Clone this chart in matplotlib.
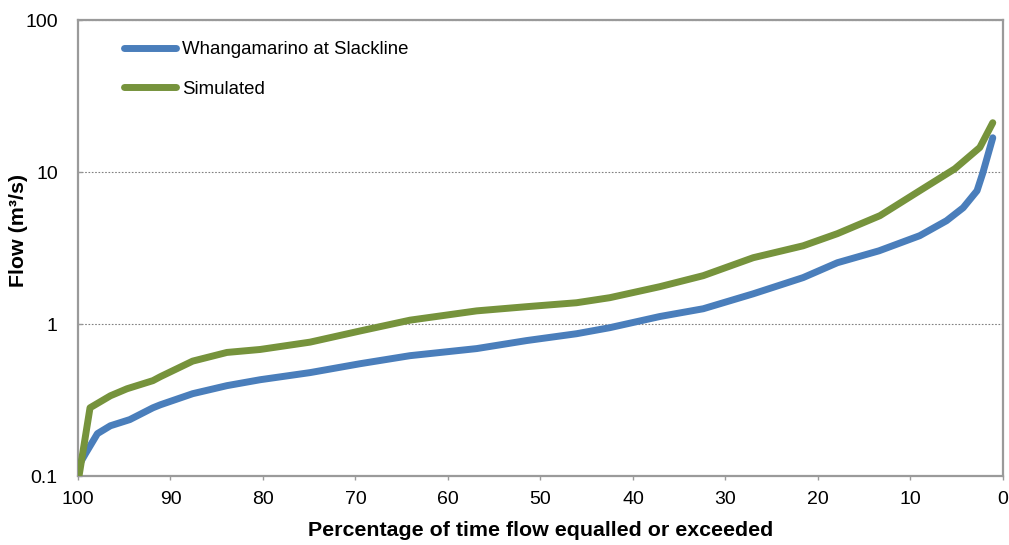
import numpy as np
import matplotlib.pyplot as plt
from matplotlib.ticker import FixedLocator, FixedFormatter, NullLocator

plt.rcParams['font.family'] = ['Liberation Sans', 'DejaVu Sans']

# flow duration curves: percentage of time exceeded vs flow (m3/s)
obs_pct = [100, 99.2, 97.9, 96.5, 94.4, 91.9, 91.1, 87.6, 83.9, 80.3, 74.9,
           69.5, 64.1, 56.9, 51.5, 46.1, 42.5, 37.1, 32.4, 27.0, 21.6, 17.9,
           13.4, 9.0, 6.1, 4.3, 2.8, 2.2, 1.1]
obs_flow = [0.115, 0.140, 0.190, 0.214, 0.235, 0.281, 0.294, 0.348, 0.393,
            0.430, 0.479, 0.548, 0.619, 0.689, 0.778, 0.863, 0.946, 1.12,
            1.26, 1.58, 2.02, 2.53, 3.03, 3.81, 4.78, 5.82, 7.53, 9.75, 16.8]

sim_pct = [99.9, 98.7, 96.5, 94.7, 91.9, 91.1, 87.6, 83.9, 80.3, 74.9, 69.5,
           64.1, 56.9, 51.5, 46.1, 42.5, 37.1, 32.4, 27.0, 21.6, 17.9, 13.3,
           9.0, 5.2, 2.5, 1.1]
sim_flow = [0.099, 0.281, 0.337, 0.375, 0.424, 0.45, 0.57, 0.65, 0.68, 0.76,
            0.90, 1.06, 1.22, 1.30, 1.38, 1.49, 1.76, 2.08, 2.73, 3.27, 3.93,
            5.16, 7.53, 10.5, 14.5, 21.1]

x_ticks = [100, 90, 80, 70, 60, 50, 40, 30, 20, 10, 0]
y_ticks = [0.1, 1, 10, 100]
y_labels = ['0.1', '1', '10', '100']

fig = plt.figure(figsize=(10.09, 5.45), dpi=100)
ax = fig.add_axes([0.0773, 0.1266, 0.9167, 0.8367])

ax.plot(obs_pct, obs_flow, color='#4A7EBB', lw=5, solid_capstyle='round',
        solid_joinstyle='round', label='Whangamarino at Slackline', zorder=3)
ax.plot(sim_pct, sim_flow, color='#76933C', lw=5, solid_capstyle='round',
        solid_joinstyle='round', label='Simulated', zorder=4)

ax.set_yscale('log')
ax.set_ylim(0.1, 100)
ax.set_xlim(100, 0)
ax.yaxis.set_major_locator(FixedLocator(y_ticks))
ax.yaxis.set_major_formatter(FixedFormatter(y_labels))
ax.yaxis.set_minor_locator(NullLocator())
ax.set_xticks(x_ticks)
ax.set_xticklabels([str(t) for t in x_ticks])

ax.grid(axis='y', which='major', color='#808080', lw=0.8, ls=(0, (1.5, 1.5)))
ax.set_axisbelow(True)
for s in ax.spines.values():
    s.set_color('#9a9a9a')
    s.set_linewidth(1.6)

ax.tick_params(axis='x', direction='out', length=3, width=1, color='#9a9a9a',
               labelsize=14, pad=8)
ax.tick_params(axis='y', direction='in', length=3, width=1, color='#9a9a9a',
               labelsize=14, pad=14.5)

# axis titles placed in figure coordinates
fig.text(0.5355, 0.027, 'Percentage of time flow equalled or exceeded',
         fontsize=15.4, fontweight='bold', ha='center', va='center')
fig.text(0.018, 0.578, 'Flow (m³/s)', fontsize=15.4, fontweight='bold',
         ha='center', va='center', rotation=90)

ax.legend(loc='upper left', bbox_to_anchor=(0.032, 0.99), frameon=False,
          fontsize=13.4, handlelength=2.8, handletextpad=0.28, labelspacing=1.2)

fig.savefig('out.png', dpi=100)
